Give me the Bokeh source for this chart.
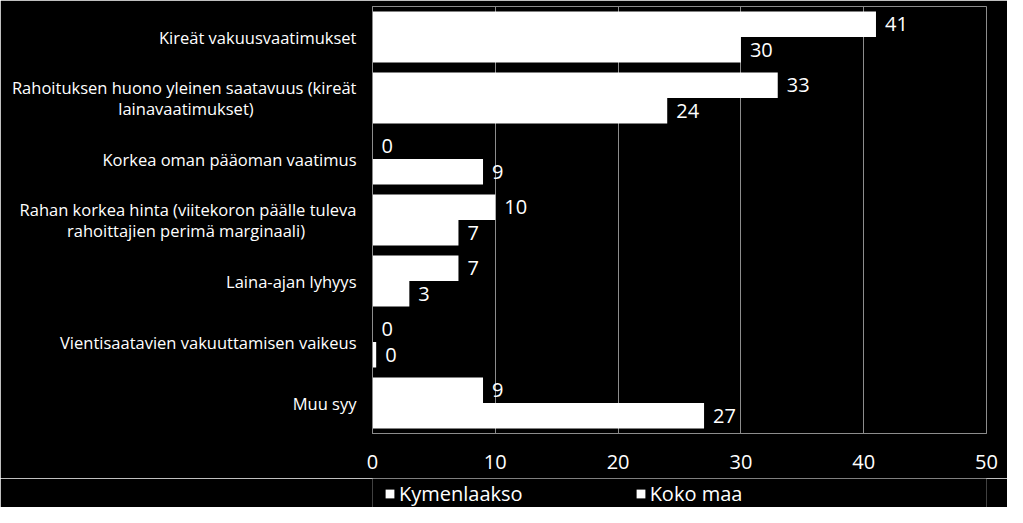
from bokeh.plotting import figure
from bokeh.layouts import column
from bokeh.models import (ColumnDataSource, FactorRange, LabelSet, FixedTicker, Legend, LegendItem,
                          Range1d, Plot, Quad)
from bokeh.transform import dodge
from bokeh.embed import file_html
from bokeh.resources import INLINE
from bokeh.core.properties import value

NB = "\u00a0"
categories = [
    "Kireät vakuusvaatimukset",
    "Rahoituksen huono yleinen saatavuus (kireät\nlainavaatimukset)" + NB * 24,
    "Korkea oman pääoman vaatimus",
    "Rahan korkea hinta (viitekoron päälle tuleva\nrahoittajien perimä marginaali)" + NB * 12,
    "Laina-ajan lyhyys",
    "Vientisaatavien vakuuttamisen vaikeus",
    "Muu syy",
]
kymenlaakso = [41, 33, 0, 10, 7, 0, 9]
koko_maa = [30, 24, 9, 7, 3, 0.3, 27]
x_ticks = [0, 10, 20, 30, 40, 50]
series = ["Kymenlaakso", "Koko maa"]

FONT = "Open Sans"
GRID = "#8c8c8c"

src = ColumnDataSource(dict(
    cat=categories,
    k=kymenlaakso,
    m=koko_maa,
    kt=[str(int(round(v))) for v in kymenlaakso],
    mt=[str(int(round(v))) for v in koko_maa],
))

p = figure(width=1007, height=478, output_backend="svg", toolbar_location=None,
           y_range=FactorRange(factors=list(reversed(categories))),
           x_range=Range1d(0, 50),
           min_border_left=372, min_border_right=21, min_border_top=6, min_border_bottom=45)
p.background_fill_color = "black"
p.border_fill_color = "black"
p.outline_line_color = GRID

r1 = p.hbar(y=dodge("cat", 0.21, range=p.y_range), right="k", left=0, height=0.42,
            source=src, fill_color="white", line_color=None)
r2 = p.hbar(y=dodge("cat", -0.21, range=p.y_range), right="m", left=0, height=0.42,
            source=src, fill_color="white", line_color=None)

for col, off in (("k", 0.21), ("m", -0.21)):
    p.add_layout(LabelSet(x=col, y=dodge("cat", off, range=p.y_range), text=col + "t",
                          source=src, x_offset=9, text_baseline="middle",
                          text_color="white", text_font=value(FONT), text_font_size="20px"))

p.xaxis.ticker = FixedTicker(ticks=x_ticks)
p.xaxis.axis_line_color = GRID
p.xaxis.major_tick_line_color = None
p.xaxis.minor_tick_line_color = None
p.xaxis.major_label_text_color = "white"
p.xaxis.major_label_text_font = FONT
p.xaxis.major_label_text_font_size = "20px"
p.xaxis.major_label_standoff = 15

p.yaxis.axis_line_color = GRID
p.yaxis.major_tick_line_color = None
p.yaxis.minor_tick_line_color = None
p.yaxis.major_label_text_color = "white"
p.yaxis.major_label_text_font = FONT
p.yaxis.major_label_text_font_size = "16.5px"
p.yaxis.major_label_text_line_height = 0.9
p.yaxis.major_label_standoff = 10

p.xgrid.grid_line_color = GRID
p.ygrid.grid_line_color = None

# legend strip below the chart (plain Plot: no axes, no grids)
lg = Plot(width=1007, height=29, output_backend="svg", toolbar_location=None,
          x_range=Range1d(0, 1), y_range=Range1d(0, 1),
          min_border_left=372, min_border_right=21, min_border_top=0, min_border_bottom=0,
          outline_line_color=None, background_fill_color="black", border_fill_color="black")
off_screen = ColumnDataSource(dict(l=[-5], r=[-4], t=[-4], b=[-5]))
swatch = Quad(left="l", right="r", top="t", bottom="b", fill_color="white", line_color=None)
l1 = lg.add_glyph(off_screen, swatch)
l2 = lg.add_glyph(off_screen, swatch.clone())
legend = Legend(items=[LegendItem(label=series[0], renderers=[l1]),
                       LegendItem(label=series[1], renderers=[l2])],
                orientation="horizontal", location=(12, 0),
                background_fill_alpha=0, border_line_color=None,
                label_text_color="white", label_text_font=FONT, label_text_font_size="20px",
                glyph_width=11, glyph_height=11, spacing=112,
                padding=0, margin=0, label_standoff=4)
lg.add_layout(legend)

open("out.html", "w").write(file_html(column(p, lg, spacing=0), INLINE))
